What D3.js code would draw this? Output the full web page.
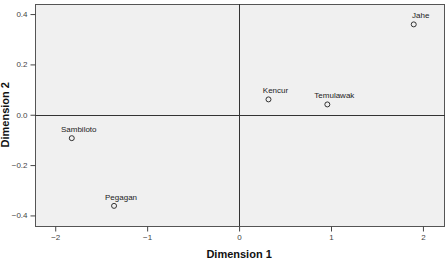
<!DOCTYPE html>
<html lang="en">
<head>
<meta charset="UTF-8">
<title>Dimension plot</title>
<script src="https://d3js.org/d3.v7.min.js"></script>
<style>
    body { margin: 0; background: white; font-family: Arial, "Liberation Sans", sans-serif; }
    .frame { fill: #f0f0f0; stroke: #555; stroke-width: 1px; }
    .ref { stroke: #333; stroke-width: 1px; }
    .pt { fill: none; stroke: #333; stroke-width: 1px; }
    .lbl { font-size: 8px; fill: #222; text-anchor: middle; }
    .tick text { font-size: 8px; fill: #444; }
    .tick line { stroke: #444; }
    .title { font-size: 11px; font-weight: bold; fill: #111; text-anchor: middle; }
</style>
</head>
<body>
<svg id="chart" width="447" height="264"></svg>
<script>
    const names = ["Sambiloto", "Pegagan", "Kencur", "Temulawak", "Jahe"];
    const dim1 = [-1.82, -1.36, 0.32, 0.96, 1.90];
    const dim2 = [-0.093, -0.362, 0.061, 0.041, 0.359];
    const xTicks = [-2, -1, 0, 1, 2];
    const yTicks = [-0.4, -0.2, 0.0, 0.2, 0.4];

    const width = 447, height = 264;
    const margin = {left: 35, right: 2, top: 4, bottom: 38};
    const svg = d3.select("#chart");

    const x = d3.scaleLinear().domain([-2.22, 2.24]).range([margin.left, width - margin.right]);
    const y = d3.scaleLinear().domain([-0.442, 0.44]).range([height - margin.bottom, margin.top]);

    // plot background
    svg.append("rect")
    .attr("class", "frame")
    .attr("x", margin.left + 0.5)
    .attr("y", margin.top + 0.5)
    .attr("width", width - margin.left - margin.right - 1)
    .attr("height", height - margin.top - margin.bottom);

    // reference lines at zero
    svg.append("line").attr("class", "ref")
    .attr("x1", Math.round(x(0)) + 0.5).attr("x2", Math.round(x(0)) + 0.5)
    .attr("y1", margin.top).attr("y2", height - margin.bottom);
    svg.append("line").attr("class", "ref")
    .attr("x1", margin.left).attr("x2", width - margin.right)
    .attr("y1", Math.round(y(0)) + 0.5).attr("y2", Math.round(y(0)) + 0.5);

    // axes
    svg.append("g")
    .attr("transform", `translate(0,${height - margin.bottom + 0.5})`)
    .call(d3.axisBottom(x).tickValues(xTicks).tickSize(5).tickFormat(d3.format("d")))
    .call(g => g.select(".domain").remove());

    svg.append("g")
    .attr("transform", `translate(${margin.left + 0.5},0)`)
    .call(d3.axisLeft(y).tickValues(yTicks).tickSize(5).tickFormat(d3.format(".1f")))
    .call(g => g.select(".domain").remove());

    // points
    const data = names.map((n, i) => ({name: n, d1: dim1[i], d2: dim2[i]}));
    svg.selectAll(".pt")
    .data(data)
    .enter()
    .append("circle")
    .attr("class", "pt")
    .attr("cx", d => x(d.d1))
    .attr("cy", d => y(d.d2))
    .attr("r", 2.5);

    // labels sit a little right of and above each point
    svg.selectAll(".lbl")
    .data(data)
    .enter()
    .append("text")
    .attr("class", "lbl")
    .attr("x", d => x(d.d1) + 7)
    .attr("y", d => y(d.d2) - 6)
    .text(d => d.name);

    // axis titles
    svg.append("text")
    .attr("class", "title")
    .attr("x", x(0))
    .attr("y", 258)
    .text("Dimension 1");

    svg.append("text")
    .attr("class", "title")
    .attr("transform", `translate(9,${y(0)}) rotate(-90)`)
    .text("Dimension 2");
</script>
</body>
</html>
